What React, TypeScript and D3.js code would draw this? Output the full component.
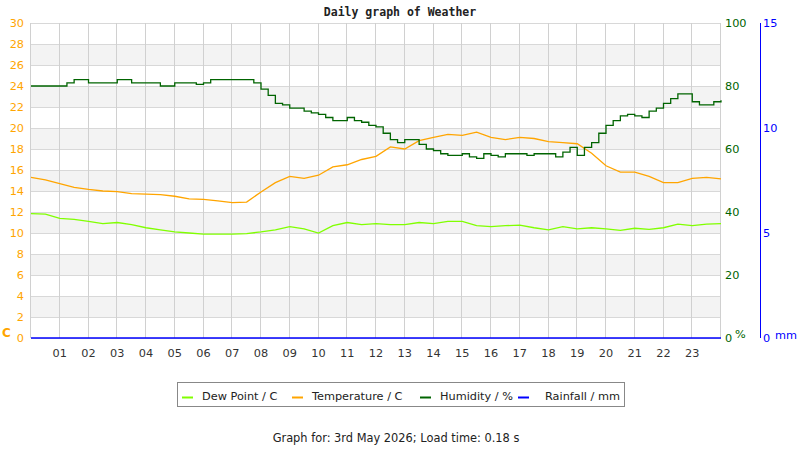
import React, { useEffect, useRef } from "react";
import * as d3 from "d3";

// half-hourly readings, 00:00 .. 24:00
const hours = d3.range(0, 24.01, 0.5);
// quarter-hourly readings for humidity
const humHours = d3.range(0, 24.01, 0.25);

const temperature = [
  15.3, 15.05, 14.7, 14.35, 14.15, 14.0, 13.95, 13.75, 13.7, 13.65, 13.5,
  13.25, 13.2, 13.05, 12.9, 12.95, 13.9, 14.8, 15.4, 15.2, 15.5, 16.3, 16.5,
  17.0, 17.3, 18.2, 18.0, 18.8, 19.1, 19.4, 19.3, 19.6, 19.1, 18.9, 19.1, 19.0,
  18.7, 18.6, 18.5, 17.6, 16.4, 15.8, 15.8, 15.4, 14.8, 14.8, 15.2, 15.3, 15.15,
];

const dewPoint = [
  11.85, 11.8, 11.4, 11.3, 11.1, 10.9, 11.0, 10.8, 10.5, 10.3, 10.1, 10.0, 9.9,
  9.9, 9.9, 9.95, 10.1, 10.3, 10.6, 10.4, 10.0, 10.7, 11.0, 10.8, 10.9, 10.8,
  10.8, 11.0, 10.9, 11.1, 11.1, 10.7, 10.6, 10.7, 10.75, 10.5, 10.3, 10.6, 10.4,
  10.5, 10.4, 10.25, 10.45, 10.35, 10.5, 10.85, 10.7, 10.85, 10.9,
];

const humidity = [
  80, 80, 80, 80, 80, 81, 82, 82, 81, 81, 81, 81, 82, 82, 81, 81,
  81, 81, 80, 80, 81, 81, 81, 80.5, 81, 82, 82, 82, 82, 82, 82, 81,
  79, 77, 74.5, 74, 73, 73, 72, 71.5, 71, 70, 69, 69, 70, 69, 68.5, 67.5,
  67, 65, 63, 62, 63, 63, 61.5, 60, 59.5, 58.5, 58, 58, 58.5, 57.5, 57, 58.5,
  58, 57.5, 58.5, 58.5, 58.5, 58, 58.5, 58.5, 58.5, 57.5, 59, 60.5,
  58, 60.5, 62, 65, 67.5, 69, 70.5, 71, 70.5, 70, 72, 73,
  74.5, 76, 77.5, 77.5, 75, 74, 74, 75, 75.5,
];

const rainfall = hours.map(() => 0);

const tempTicks = d3.range(0, 31, 2);
const humidityTicks = [0, 20, 40, 60, 80, 100];
const rainTicks = [0, 5, 10, 15];
const hourTicks = d3.range(1, 24);

const legendItems = [
  { label: "Dew Point / C", color: "#80ff00", x: 182, tx: 202 },
  { label: "Temperature / C", color: "#ffa500", x: 292, tx: 312 },
  { label: "Humidity / %", color: "#006400", x: 420, tx: 440 },
  { label: "Rainfall / mm", color: "#0000ff", x: 518, tx: 545 },
];

const App: React.FC = () => {
  const svgRef = useRef<SVGSVGElement | null>(null);

  const width = 800;
  const height = 450;

  useEffect(() => {
    const svg = d3.select(svgRef.current);
    svg.selectAll("*").remove();

    const left = 31;
    const right = 721;
    const top = 23;
    const bottom = 338;
    const font = "DejaVu Sans, sans-serif";
    const fs = "11.3px";

    const x = d3.scaleLinear().domain([0, 24]).range([left, right]);
    const yTemp = d3.scaleLinear().domain([0, 30]).range([bottom, top]);
    const yHum = d3.scaleLinear().domain([0, 100]).range([bottom, top]);
    const yRain = d3.scaleLinear().domain([0, 15]).range([bottom, top]);

    // alternating bands
    svg
      .append("g")
      .selectAll("rect")
      .data(d3.range(2, 30, 4))
      .enter()
      .append("rect")
      .attr("x", left)
      .attr("width", right - left)
      .attr("y", (d) => yTemp(d + 2))
      .attr("height", (d) => yTemp(d) - yTemp(d + 2))
      .attr("fill", "#f3f3f3");

    // grid
    svg
      .append("g")
      .selectAll("line")
      .data(tempTicks)
      .enter()
      .append("line")
      .attr("x1", left)
      .attr("x2", right)
      .attr("y1", (d) => yTemp(d) + 0.5)
      .attr("y2", (d) => yTemp(d) + 0.5)
      .attr("stroke", "#d8d8d8");

    svg
      .append("g")
      .selectAll("line")
      .data([0, ...hourTicks, 24])
      .enter()
      .append("line")
      .attr("x1", (d) => Math.round(x(d)) - 0.5)
      .attr("x2", (d) => Math.round(x(d)) - 0.5)
      .attr("y1", top)
      .attr("y2", bottom)
      .attr("stroke", "#d0d0d0");

    // left axis labels
    svg
      .append("g")
      .selectAll("text")
      .data(tempTicks)
      .enter()
      .append("text")
      .attr("x", 24)
      .attr("y", (d) => yTemp(d) + 4)
      .attr("text-anchor", "end")
      .attr("font-family", font)
      .attr("font-size", fs)
      .attr("fill", "#ffa500")
      .text((d) => d);

    svg
      .append("text")
      .attr("x", 2)
      .attr("y", 337)
      .attr("font-family", font)
      .attr("font-size", "12px")
      .attr("font-weight", "bold")
      .attr("fill", "#ffa500")
      .text("C");

    // humidity axis labels
    svg
      .append("g")
      .selectAll("text")
      .data(humidityTicks)
      .enter()
      .append("text")
      .attr("x", 725)
      .attr("y", (d) => yHum(d) + 4)
      .attr("font-family", font)
      .attr("font-size", fs)
      .attr("fill", "#006400")
      .text((d) => d);

    svg
      .append("text")
      .attr("x", 735)
      .attr("y", 338)
      .attr("font-family", font)
      .attr("font-size", fs)
      .attr("fill", "#006400")
      .text("%");

    // rainfall axis
    svg
      .append("line")
      .attr("x1", 760.5)
      .attr("x2", 760.5)
      .attr("y1", top)
      .attr("y2", bottom)
      .attr("stroke", "#0000ff");

    svg
      .append("g")
      .selectAll("text")
      .data(rainTicks)
      .enter()
      .append("text")
      .attr("x", 763)
      .attr("y", (d) => yRain(d) + 4)
      .attr("font-family", font)
      .attr("font-size", fs)
      .attr("fill", "#0000ff")
      .text((d) => d);

    svg
      .append("text")
      .attr("x", 775)
      .attr("y", 339)
      .attr("font-family", font)
      .attr("font-size", fs)
      .attr("fill", "#0000ff")
      .text("mm");

    // hour labels
    svg
      .append("g")
      .selectAll("text")
      .data(hourTicks)
      .enter()
      .append("text")
      .attr("x", (d) => x(d))
      .attr("y", 357)
      .attr("text-anchor", "middle")
      .attr("font-family", font)
      .attr("font-size", fs)
      .attr("fill", "#333")
      .text((d) => d3.format("02d")(d));

    // series
    const lineTemp = d3
      .line<number>()
      .x((d, i) => x(hours[i]))
      .y((d) => yTemp(d));

    const lineHum = d3
      .line<number>()
      .x((d, i) => x(humHours[i]))
      .y((d) => yHum(d))
      .curve(d3.curveStepAfter);

    const lineRain = d3
      .line<number>()
      .x((d, i) => x(hours[i]))
      .y((d) => yRain(d));

    svg
      .append("path")
      .datum(dewPoint)
      .attr("d", lineTemp)
      .attr("fill", "none")
      .attr("stroke", "#80ff00")
      .attr("stroke-width", 1.3);

    svg
      .append("path")
      .datum(temperature)
      .attr("d", lineTemp)
      .attr("fill", "none")
      .attr("stroke", "#ffa500")
      .attr("stroke-width", 1.3);

    svg
      .append("path")
      .datum(humidity)
      .attr("d", lineHum)
      .attr("fill", "none")
      .attr("stroke", "#006400")
      .attr("stroke-width", 1.3);

    svg
      .append("path")
      .datum(rainfall)
      .attr("d", lineRain)
      .attr("fill", "none")
      .attr("stroke", "#0000ff")
      .attr("stroke-width", 1.5);

    // title
    svg
      .append("text")
      .attr("x", 400)
      .attr("y", 16)
      .attr("text-anchor", "middle")
      .attr("font-family", "DejaVu Sans Mono, monospace")
      .attr("font-size", "11.5px")
      .attr("font-weight", "bold")
      .attr("fill", "#222")
      .text("Daily graph of Weather");

    // legend
    svg
      .append("rect")
      .attr("x", 177.5)
      .attr("y", 382.5)
      .attr("width", 447)
      .attr("height", 24)
      .attr("fill", "white")
      .attr("stroke", "#888");

    const items = svg
      .append("g")
      .selectAll("g")
      .data(legendItems)
      .enter()
      .append("g");

    items
      .append("line")
      .attr("x1", (d) => d.x)
      .attr("x2", (d) => d.x + 11)
      .attr("y1", 397.5)
      .attr("y2", 397.5)
      .attr("stroke", (d) => d.color)
      .attr("stroke-width", 2);

    items
      .append("text")
      .attr("x", (d) => d.tx)
      .attr("y", 400)
      .attr("font-family", font)
      .attr("font-size", fs)
      .attr("fill", "#222")
      .text((d) => d.label);

    svg
      .append("text")
      .attr("x", 396)
      .attr("y", 442)
      .attr("text-anchor", "middle")
      .attr("font-family", font)
      .attr("font-size", "11.4px")
      .attr("fill", "#222")
      .text("Graph for: 3rd May 2026; Load time: 0.18 s");
  }, []);

  return (
    <svg
      ref={svgRef}
      width={width}
      height={height}
      style={{ position: "absolute", left: 0, top: 0, background: "white" }}
    ></svg>
  );
};

export default App;
